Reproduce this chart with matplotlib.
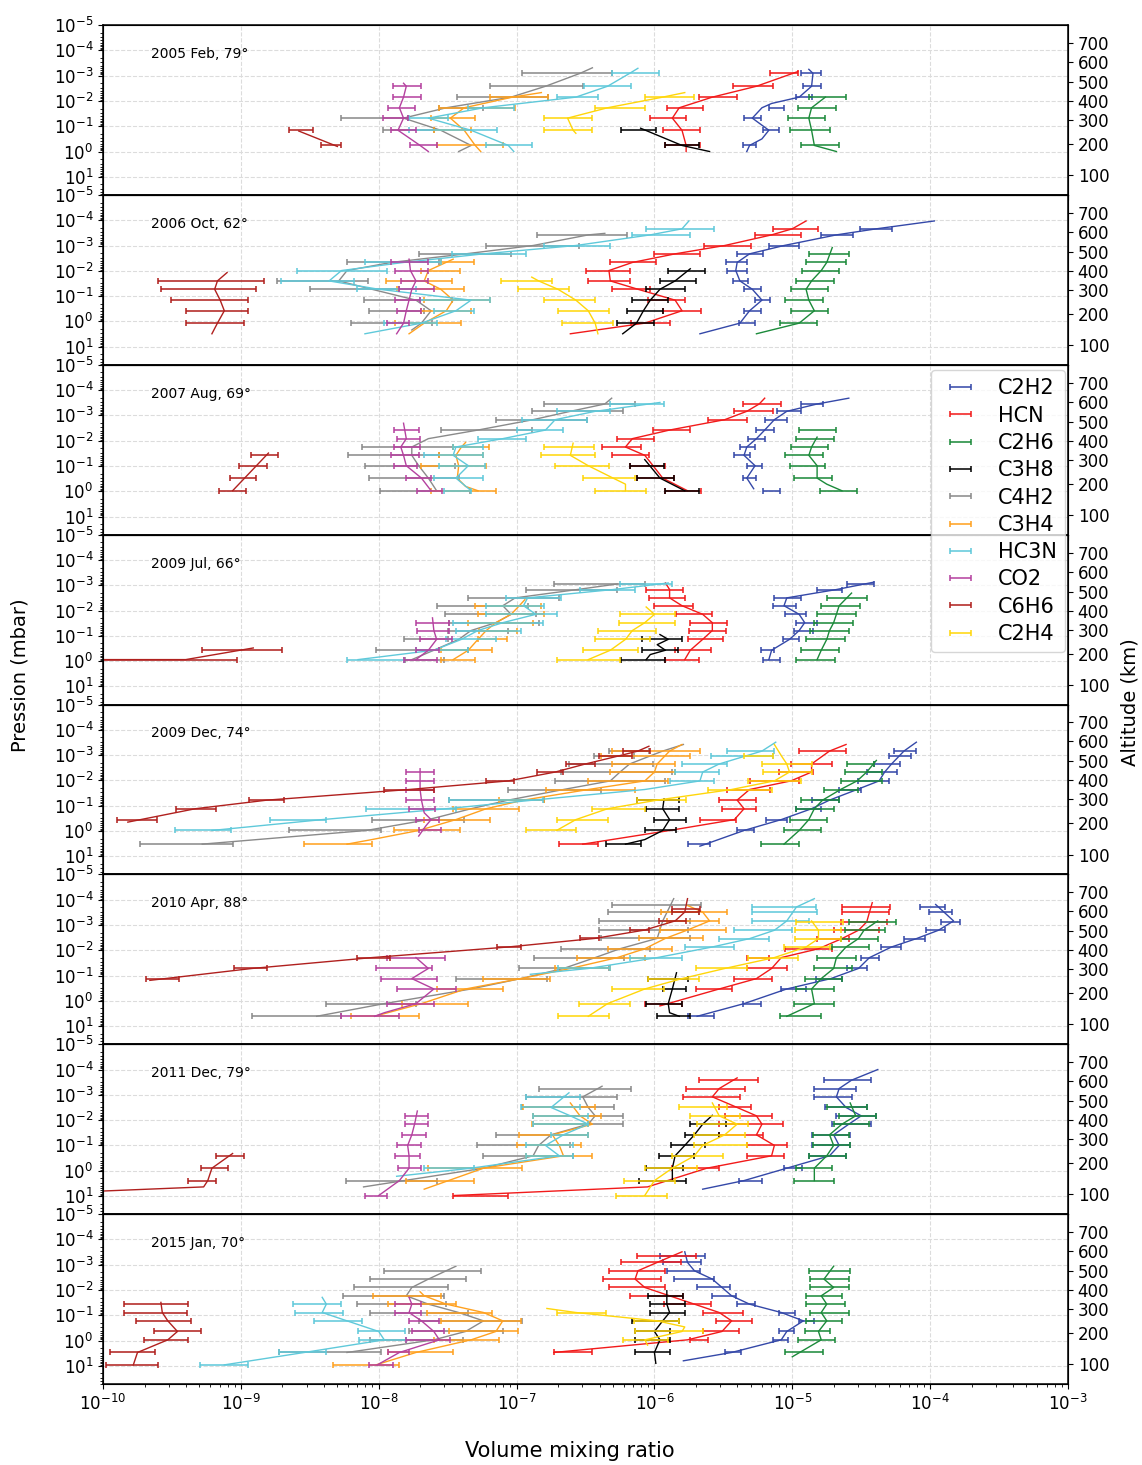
import numpy as np
import matplotlib.pyplot as plt
from matplotlib.ticker import LogLocator, NullFormatter, NullLocator

# ordre de la legende
species = ['C2H2', 'HCN', 'C2H6', 'C3H8', 'C4H2', 'C3H4', 'HC3N', 'CO2', 'C6H6', 'C2H4']
colors = {'C2H2': '#3448a8', 'HCN': '#f21a1a', 'C2H6': '#1b8a3a', 'C3H8': '#000000',
          'C4H2': '#8a8a8a', 'C3H4': '#ffa11f', 'HC3N': '#5fc9da', 'CO2': '#b5419f',
          'C6H6': '#b0201e', 'C2H4': '#ffd60a'}

titles = ['2005 Feb, 79°', '2006 Oct, 62°', '2007 Aug, 69°', '2009 Jul, 66°',
          '2009 Dec, 74°', '2010 Apr, 88°', '2011 Dec, 79°', '2015 Jan, 70°']

# axe de droite : altitude (km) et log10 de la pression correspondante
alt_km = [100, 200, 300, 400, 500, 600, 700]
alt_logp = [0.93, -0.30, -1.245, -2.0, -2.75, -3.54, -4.29]

# toutes les valeurs en log10 : barres (log p, log vmr min, log vmr max), profils (log p, log vmr)
bars_feb05 = {
    'C2H2': [(-3.09, -4.94, -4.79), (-2.58, -4.92, -4.79), (-2.15, -4.97, -4.86), (-1.73, -5.17, -5.06), (-1.32, -5.35, -5.23), (-0.84, -5.21, -5.10), (-0.24, -5.36, -5.26)],
    'HCN': [(-3.09, -5.16, -4.96), (-2.58, -5.43, -5.14), (-2.15, -5.68, -5.40), (-1.73, -5.91, -5.65), (-1.32, -6.03, -5.77), (-0.84, -5.94, -5.67), (-0.24, -5.92, -5.67)],
    'C2H6': [(-2.15, -4.88, -4.61), (-1.73, -4.96, -4.68), (-1.32, -5.03, -4.76), (-0.84, -5.02, -4.73), (-0.24, -4.94, -4.66)],
    'C3H8': [(-0.84, -6.24, -5.99), (-0.24, -5.92, -5.68)],
    'C4H2': [(-3.09, -6.96, -6.31), (-2.58, -7.19, -6.52), (-2.15, -7.43, -6.77), (-1.73, -7.56, -7.24), (-1.32, -8.27, -7.79), (-0.84, -7.97, -7.60)],
    'C3H4': [(-2.15, -7.19, -6.77), (-1.73, -7.56, -7.01), (-1.32, -7.62, -7.30), (-0.84, -7.60, -7.33), (-0.24, -7.58, -7.10)],
    'HC3N': [(-3.09, -6.31, -5.97), (-2.58, -6.51, -6.17), (-2.15, -6.71, -6.41), (-1.73, -7.35, -7.02), (-1.32, -7.78, -7.50), (-0.84, -7.78, -7.14), (-0.24, -7.22, -6.89)],
    'CO2': [(-2.58, -7.90, -7.69), (-2.15, -7.90, -7.69), (-1.73, -7.93, -7.74), (-1.32, -7.97, -7.79), (-0.84, -7.91, -7.73), (-0.24, -7.77, -7.58)],
    'C6H6': [(-0.84, -8.65, -8.48), (-0.24, -8.42, -8.27)],
    'C2H4': [(-2.15, -6.07, -5.71), (-1.73, -6.43, -6.07), (-1.32, -6.80, -6.45), (-0.84, -6.80, -6.45)],
}
curve_feb05 = {
    'C2H2': [(-3.25, -4.88), (-3.09, -4.85), (-2.58, -4.86), (-2.15, -4.95), (-1.90, -5.15), (-1.73, -5.22), (-1.32, -5.29), (-0.84, -5.17), (-0.50, -5.22), (-0.24, -5.31), (0.0, -5.33)],
    'HCN': [(-3.16, -4.96), (-2.58, -5.26), (-2.15, -5.58), (-1.73, -5.82), (-1.32, -5.87), (-0.84, -5.80), (-0.24, -5.77), (0.0, -5.77)],
    'C2H6': [(-2.15, -4.76), (-1.73, -4.86), (-1.32, -4.88), (-0.84, -4.86), (-0.24, -4.84), (0.0, -4.68)],
    'C3H8': [(-0.92, -6.10), (-0.24, -5.80), (0.0, -5.60)],
    'C4H2': [(-3.31, -6.45), (-3.09, -6.54), (-2.58, -6.79), (-2.15, -7.04), (-1.73, -7.51), (-1.32, -7.82), (-0.84, -7.55), (-0.24, -7.33), (0.0, -7.42)],
    'C3H4': [(-2.33, -6.82), (-2.15, -7.03), (-1.73, -7.38), (-1.32, -7.48), (-0.84, -7.38), (-0.24, -7.30), (0.0, -7.26)],
    'HC3N': [(-3.29, -6.12), (-3.09, -6.18), (-2.58, -6.34), (-2.15, -6.57), (-1.73, -7.24), (-1.32, -7.64), (-0.84, -7.33), (-0.24, -7.06), (0.0, -7.02)],
    'CO2': [(-2.70, -7.82), (-2.58, -7.80), (-2.15, -7.82), (-1.73, -7.85), (-1.32, -7.82), (-0.84, -7.86), (-0.24, -7.70), (0.0, -7.64)],
    'C6H6': [(-0.81, -8.58), (-0.20, -8.30)],
    'C2H4': [(-2.33, -5.78), (-2.15, -5.94), (-1.73, -6.34), (-1.32, -6.63), (-0.84, -6.59), (-0.72, -6.57)],
}

bars_oct06 = {
    'C2H2': [(-3.66, -4.51, -4.28), (-3.42, -4.79, -4.56), (-3.0, -5.17, -4.95), (-2.67, -5.40, -5.21), (-2.33, -5.48, -5.33), (-2.01, -5.47, -5.33), (-1.60, -5.43, -5.32), (-1.27, -5.35, -5.23), (-0.84, -5.27, -5.16), (-0.42, -5.35, -5.23), (0.07, -5.39, -5.27)],
    'HCN': [(-3.66, -5.14, -4.81), (-3.42, -5.27, -4.94), (-3.0, -5.64, -5.30), (-2.67, -6.0, -5.67), (-2.33, -6.32, -5.99), (-2.01, -6.50, -6.18), (-1.60, -6.48, -6.18), (-1.27, -6.31, -6.03), (-0.84, -6.05, -5.78), (-0.42, -5.94, -5.66), (0.07, -6.17, -5.89)],
    'C2H6': [(-2.67, -4.88, -4.59), (-2.33, -4.90, -4.61), (-2.01, -4.93, -4.66), (-1.60, -4.97, -4.70), (-1.27, -5.01, -4.74), (-0.84, -5.05, -4.78), (-0.42, -5.01, -4.74), (0.07, -5.09, -4.82)],
    'C3H8': [(-2.01, -5.90, -5.63), (-1.60, -5.96, -5.70), (-1.27, -6.06, -5.78), (-0.84, -6.16, -5.90), (-0.42, -6.20, -5.94), (0.07, -6.27, -6.0)],
    'C4H2': [(-3.42, -6.85, -6.20), (-3.0, -7.22, -6.55), (-2.67, -7.71, -7.04), (-2.33, -8.23, -7.56), (-1.60, -8.74, -8.08), (-1.27, -8.50, -7.85), (-0.84, -8.11, -7.47), (-0.42, -8.07, -7.67), (0.07, -8.20, -7.61)],
    'C3H4': [(-2.33, -7.55, -7.31), (-2.01, -7.69, -7.41), (-1.60, -7.95, -7.47), (-1.27, -7.87, -7.38), (-0.84, -7.67, -7.19), (-0.42, -7.69, -7.33), (0.07, -7.88, -7.40)],
    'HC3N': [(-3.66, -6.06, -5.57), (-3.42, -6.16, -5.74), (-3.0, -6.80, -6.32), (-2.67, -7.47, -6.93), (-2.33, -8.10, -7.55), (-2.01, -8.59, -7.94), (-1.60, -8.71, -8.18), (-1.27, -8.16, -7.73), (-0.84, -7.70, -7.19), (-0.42, -7.60, -7.31), (0.07, -7.96, -7.58)],
    'CO2': [(-2.33, -7.91, -7.64), (-2.01, -7.88, -7.64), (-1.60, -7.84, -7.64), (-1.27, -7.85, -7.60), (-0.84, -7.88, -7.70), (-0.42, -7.87, -7.69), (0.07, -7.94, -7.78)],
    'C6H6': [(-1.60, -9.60, -8.83), (-1.27, -9.58, -8.89), (-0.84, -9.51, -8.95), (-0.42, -9.40, -8.95), (0.07, -9.40, -8.98)],
    'C2H4': [(-1.60, -7.11, -6.74), (-1.27, -6.99, -6.62), (-0.84, -6.80, -6.43), (-0.42, -6.70, -6.33), (0.07, -6.67, -6.30)],
}
curve_oct06 = {
    'C2H2': [(-3.97, -3.97), (-3.66, -4.39), (-3.42, -4.68), (-3.0, -5.06), (-2.67, -5.31), (-2.33, -5.40), (-2.01, -5.41), (-1.60, -5.38), (-1.27, -5.29), (-0.84, -5.22), (-0.42, -5.31), (0.07, -5.38), (0.49, -5.67)],
    'HCN': [(-3.97, -4.90), (-3.66, -5.0), (-3.42, -5.15), (-3.0, -5.49), (-2.67, -5.85), (-2.33, -6.16), (-2.01, -6.33), (-1.60, -6.32), (-1.27, -6.12), (-0.84, -5.85), (-0.42, -5.80), (0.07, -6.07), (0.49, -6.61)],
    'C2H6': [(-2.92, -4.71), (-2.33, -4.75), (-2.01, -4.79), (-1.60, -4.86), (-1.27, -4.90), (-0.84, -4.88), (-0.42, -4.84), (0.07, -4.95), (0.49, -5.26)],
    'C3H8': [(-2.08, -5.74), (-1.60, -5.85), (-1.27, -5.96), (-0.84, -6.03), (-0.42, -6.08), (0.07, -6.13), (0.49, -6.23)],
    'C4H2': [(-3.48, -6.36), (-3.42, -6.48), (-3.0, -6.88), (-2.67, -7.37), (-2.33, -7.91), (-2.01, -8.23), (-1.60, -8.29), (-1.27, -8.05), (-0.84, -7.73), (-0.42, -7.62), (0.07, -7.69), (0.34, -7.76)],
    'C3H4': [(-2.46, -7.46), (-2.01, -7.64), (-1.60, -7.67), (-1.27, -7.55), (-0.84, -7.46), (-0.42, -7.51), (0.07, -7.67), (0.49, -7.78)],
    'HC3N': [(-3.97, -5.75), (-3.66, -5.80), (-3.42, -6.03), (-3.0, -6.57), (-2.67, -7.24), (-2.33, -7.82), (-2.01, -8.27), (-1.60, -8.36), (-1.27, -8.0), (-0.84, -7.33), (-0.42, -7.44), (0.07, -7.69), (0.49, -8.10)],
    'CO2': [(-2.46, -7.78), (-2.01, -7.77), (-1.60, -7.73), (-1.27, -7.76), (-0.84, -7.78), (-0.42, -7.80), (0.07, -7.82), (0.49, -7.87)],
    'C6H6': [(-1.93, -9.10), (-1.60, -9.17), (-1.27, -9.19), (-0.84, -9.15), (-0.42, -9.12), (0.07, -9.17), (0.49, -9.21)],
    'C2H4': [(-1.75, -6.89), (-1.60, -6.84), (-1.27, -6.70), (-0.84, -6.57), (-0.42, -6.48), (0.07, -6.43), (0.49, -6.41)],
}

bars_aug07 = {
    'C2H2': [(-3.45, -4.94, -4.78), (-3.16, -5.11, -4.94), (-2.83, -5.20, -5.04), (-2.42, -5.26, -5.13), (-2.08, -5.32, -5.20), (-1.75, -5.38, -5.27), (-1.42, -5.42, -5.31), (-1.01, -5.33, -5.22), (-0.52, -5.36, -5.26), (-0.02, -5.21, -5.09)],
    'HCN': [(-3.45, -5.36, -5.08), (-3.16, -5.42, -5.14), (-2.83, -5.61, -5.33), (-2.42, -6.01, -5.74), (-2.08, -6.27, -6.0), (-1.75, -6.38, -6.10), (-1.42, -6.31, -6.04), (-1.01, -6.18, -5.92), (-0.52, -6.13, -5.86), (-0.02, -5.92, -5.66)],
    'C2H6': [(-2.42, -4.95, -4.68), (-2.08, -4.97, -4.70), (-1.75, -5.01, -4.74), (-1.42, -5.05, -4.78), (-1.01, -5.02, -4.76), (-0.52, -4.99, -4.71), (-0.02, -4.80, -4.53)],
    'C3H8': [(-1.01, -6.18, -5.93), (-0.52, -6.13, -5.86), (-0.02, -5.92, -5.68)],
    'C4H2': [(-3.45, -6.80, -6.14), (-3.16, -6.89, -6.23), (-2.83, -7.15, -6.49), (-2.42, -7.55, -6.89), (-1.75, -8.12, -7.46), (-1.42, -8.22, -7.56), (-1.01, -8.10, -7.45), (-0.52, -8.07, -7.42), (-0.02, -7.99, -7.34)],
    'C3H4': [(-1.75, -7.46, -7.20), (-1.42, -7.56, -7.24), (-1.01, -7.69, -7.22), (-0.02, -7.62, -7.15)],
    'HC3N': [(-3.45, -6.32, -5.93), (-3.16, -6.71, -6.32), (-2.83, -6.96, -6.49), (-2.42, -7.0, -6.66), (-2.08, -7.28, -6.93), (-1.75, -7.46, -7.24), (-1.42, -7.67, -7.24), (-1.01, -7.56, -7.23), (-0.52, -7.60, -7.24), (-0.02, -7.53, -7.33)],
    'CO2': [(-2.42, -7.89, -7.71), (-2.08, -7.87, -7.70), (-1.75, -7.89, -7.70), (-1.42, -7.91, -7.71), (-1.01, -7.89, -7.72), (-0.52, -7.80, -7.62), (-0.02, -7.72, -7.54)],
    'C6H6': [(-1.42, -8.93, -8.73), (-1.01, -9.01, -8.81), (-0.52, -9.08, -8.89), (-0.02, -9.16, -8.96)],
    'C2H4': [(-1.75, -6.80, -6.44), (-1.42, -6.82, -6.43), (-1.01, -6.72, -6.33), (-0.52, -6.52, -6.14), (-0.02, -6.43, -6.06)],
}
curve_aug07 = {
    'C2H2': [(-3.68, -4.59), (-3.45, -4.82), (-3.16, -5.04), (-2.83, -5.13), (-2.42, -5.20), (-2.08, -5.26), (-1.75, -5.33), (-1.42, -5.35), (-1.01, -5.27), (-0.52, -5.33), (-0.10, -5.28)],
    'HCN': [(-3.68, -5.20), (-3.45, -5.24), (-3.16, -5.33), (-2.83, -5.49), (-2.42, -5.89), (-2.08, -6.16), (-1.75, -6.21), (-1.42, -6.07), (-1.01, -6.01), (-0.52, -5.94), (-0.02, -5.76)],
    'C2H6': [(-2.14, -4.82), (-1.75, -4.86), (-1.42, -4.88), (-1.01, -4.82), (-0.52, -4.82), (-0.28, -4.75), (-0.02, -4.64)],
    'C3H8': [(-1.25, -6.07), (-0.52, -5.96), (-0.02, -5.78)],
    'C4H2': [(-3.68, -6.31), (-3.45, -6.36), (-3.16, -6.61), (-2.83, -6.88), (-2.42, -7.28), (-2.08, -7.64), (-1.75, -7.76), (-1.42, -7.76), (-1.01, -7.71), (-0.52, -7.64), (-0.02, -7.58)],
    'C3H4': [(-1.93, -7.37), (-1.75, -7.40), (-1.42, -7.44), (-1.01, -7.42), (-0.52, -7.43), (-0.19, -7.37), (-0.02, -7.28)],
    'HC3N': [(-3.51, -5.96), (-3.16, -6.43), (-2.83, -6.72), (-2.42, -6.79), (-2.08, -7.10), (-1.75, -7.44), (-1.42, -7.46), (-1.01, -7.35), (-0.52, -7.44), (-0.02, -7.33)],
    'CO2': [(-2.69, -7.82), (-2.08, -7.80), (-1.75, -7.84), (-1.42, -7.82), (-1.01, -7.80), (-0.52, -7.69), (-0.02, -7.62)],
    'C6H6': [(-1.51, -8.80), (-0.02, -9.06)],
    'C2H4': [(-1.90, -6.59), (-1.42, -6.61), (-1.01, -6.48), (-0.52, -6.30), (-0.28, -6.21), (-0.02, -6.21)],
}

bars_jul09 = {
    'C2H2': [(-3.05, -4.60, -4.41), (-2.83, -4.82, -4.64), (-2.50, -5.13, -4.94), (-2.19, -5.14, -4.97), (-1.85, -5.05, -4.90), (-1.52, -4.97, -4.82), (-1.21, -4.99, -4.85), (-0.86, -5.07, -4.95), (-0.43, -5.23, -5.13), (-0.06, -5.21, -5.09)],
    'HCN': [(-2.83, -6.06, -5.79), (-2.50, -6.04, -5.78), (-2.19, -6.0, -5.72), (-1.85, -5.84, -5.58), (-1.52, -5.74, -5.47), (-1.21, -5.75, -5.48), (-0.86, -5.76, -5.50), (-0.43, -5.85, -5.59), (-0.06, -5.92, -5.68)],
    'C2H6': [(-2.50, -4.75, -4.46), (-2.19, -4.79, -4.51), (-1.85, -4.82, -4.54), (-1.52, -4.84, -4.56), (-1.21, -4.87, -4.59), (-0.86, -4.90, -4.62), (-0.43, -4.94, -4.66), (-0.06, -4.97, -4.69)],
    'C3H8': [(-0.86, -6.09, -5.80), (-0.43, -6.09, -5.83), (-0.06, -6.24, -5.92)],
    'C4H2': [(-3.05, -6.73, -6.07), (-2.83, -6.93, -6.27), (-2.50, -7.35, -6.69), (-2.19, -7.58, -6.92), (-1.85, -7.52, -6.86), (-1.52, -7.49, -6.84), (-1.21, -7.50, -7.06), (-0.86, -7.82, -7.50), (-0.43, -8.02, -7.35), (-0.06, -7.81, -7.53)],
    'C3H4': [(-2.19, -7.30, -6.82), (-1.85, -7.28, -6.80), (-1.52, -7.35, -6.88), (-1.21, -7.27, -7.0), (-0.86, -7.28, -7.07), (-0.43, -7.55, -7.18), (-0.06, -7.55, -7.30)],
    'HC3N': [(-3.05, -6.25, -5.87), (-2.83, -6.54, -6.14), (-2.50, -7.08, -6.68), (-2.19, -7.22, -6.80), (-1.85, -7.22, -6.71), (-1.52, -7.46, -6.81), (-1.21, -7.44, -6.97), (-0.86, -7.51, -7.15), (-0.43, -7.73, -7.35), (-0.06, -8.23, -7.82)],
    'CO2': [(-1.52, -7.73, -7.49), (-1.21, -7.72, -7.49), (-0.86, -7.70, -7.47), (-0.43, -7.73, -7.56), (-0.06, -7.82, -7.58)],
    'C6H6': [(-0.43, -9.28, -8.70), (-0.06, -10.3, -9.03)],
    'C2H4': [(-1.85, -6.25, -5.85), (-1.52, -6.26, -5.85), (-1.21, -6.41, -5.99), (-0.86, -6.43, -6.03), (-0.43, -6.52, -6.12), (-0.06, -6.71, -6.25)],
}
curve_jul09 = {
    'C2H2': [(-3.12, -4.41), (-2.83, -4.68), (-2.50, -5.04), (-2.19, -5.06), (-1.85, -4.95), (-1.52, -4.91), (-1.21, -4.95), (-0.86, -5.02), (-0.43, -5.15), (-0.06, -5.17)],
    'HCN': [(-3.09, -5.92), (-2.83, -5.89), (-2.50, -5.89), (-2.19, -5.80), (-1.85, -5.65), (-1.52, -5.58), (-1.21, -5.58), (-0.86, -5.65), (-0.43, -5.74), (-0.06, -5.78)],
    'C2H6': [(-2.69, -4.57), (-2.19, -4.66), (-1.85, -4.68), (-1.52, -4.70), (-1.21, -4.73), (-0.86, -4.75), (-0.43, -4.79), (-0.06, -4.82)],
    'C3H8': [(-1.05, -5.96), (-0.86, -5.90), (-0.65, -5.98), (-0.43, -5.92), (-0.26, -6.03), (-0.06, -6.06)],
    'C4H2': [(-3.05, -6.27), (-2.83, -6.56), (-2.50, -7.01), (-2.19, -7.10), (-1.85, -7.04), (-1.52, -7.15), (-1.21, -7.33), (-0.86, -7.42), (-0.43, -7.60), (-0.06, -7.76)],
    'C3H4': [(-2.43, -6.94), (-2.19, -6.98), (-1.85, -7.04), (-1.52, -7.15), (-1.21, -7.22), (-0.86, -7.28), (-0.43, -7.35), (-0.06, -7.46)],
    'HC3N': [(-3.09, -5.90), (-2.83, -6.30), (-2.50, -6.92), (-2.19, -6.95), (-1.85, -6.86), (-1.52, -7.10), (-1.21, -7.28), (-0.86, -7.40), (-0.43, -7.60), (-0.06, -8.15)],
    'CO2': [(-1.71, -7.61), (-1.21, -7.60), (-0.86, -7.58), (-0.43, -7.64), (-0.06, -7.73)],
    'C6H6': [(-0.52, -8.91), (-0.06, -9.40), (-0.06, -10.5)],
    'C2H4': [(-2.14, -6.06), (-1.85, -6.0), (-1.52, -6.07), (-1.21, -6.16), (-0.86, -6.21), (-0.43, -6.32), (-0.06, -6.48)],
}

bars_dec09 = {
    'C2H2': [(-3.16, -4.26, -4.10), (-2.98, -4.30, -4.14), (-2.65, -4.41, -4.22), (-2.33, -4.46, -4.24), (-1.98, -4.52, -4.30), (-1.64, -4.66, -4.50), (-1.22, -4.86, -4.66), (-0.88, -4.97, -4.79), (-0.45, -5.19, -5.04), (-0.02, -5.40, -5.28), (0.52, -5.76, -5.60)],
    'HCN': [(-3.16, -4.95, -4.61), (-2.65, -5.01, -4.71), (-2.33, -5.10, -4.85), (-1.98, -5.31, -4.95), (-1.64, -5.47, -5.16), (-1.22, -5.53, -5.26), (-0.88, -5.51, -5.26), (-0.45, -5.67, -5.41), (0.52, -6.69, -6.41)],
    'C2H6': [(-2.65, -4.60, -4.41), (-2.33, -4.62, -4.35), (-1.98, -4.65, -4.35), (-1.64, -4.77, -4.52), (-1.22, -4.94, -4.66), (-0.88, -4.97, -4.70), (-0.45, -5.02, -4.75), (-0.02, -5.06, -4.79), (0.52, -5.23, -4.95)],
    'C3H8': [(-1.22, -6.13, -5.82), (-0.88, -6.06, -5.82), (-0.45, -6.0, -5.77), (-0.02, -6.07, -5.84), (0.52, -6.35, -6.10)],
    'C4H2': [(-3.16, -6.33, -6.04), (-2.98, -6.44, -6.15), (-2.65, -6.62, -6.01), (-2.33, -6.68, -5.87), (-1.98, -6.72, -5.92), (-1.64, -7.06, -6.39), (-1.22, -7.49, -6.80), (-0.45, -8.05, -7.38), (-0.02, -8.65, -7.98), (0.52, -9.73, -9.06)],
    'C3H4': [(-3.16, -6.31, -5.67), (-2.98, -6.39, -5.74), (-2.65, -6.31, -5.85), (-2.33, -6.32, -5.85), (-1.98, -6.48, -5.90), (-1.64, -6.79, -6.14), (-1.22, -7.13, -6.80), (-0.88, -7.46, -6.98), (-0.45, -7.67, -7.19), (-0.02, -7.89, -7.41), (0.52, -8.54, -8.05)],
    'HC3N': [(-3.16, -5.47, -5.13), (-2.98, -5.59, -5.14), (-2.65, -5.80, -5.47), (-2.33, -5.85, -5.53), (-1.98, -5.89, -5.57), (-1.22, -7.49, -6.81), (-0.88, -8.09, -7.44), (-0.45, -8.79, -8.38), (-0.02, -9.48, -9.07)],
    'CO2': [(-2.33, -7.80, -7.60), (-1.98, -7.80, -7.60), (-1.64, -7.80, -7.60), (-1.22, -7.80, -7.60), (-0.88, -7.78, -7.59), (-0.45, -7.73, -7.56), (-0.02, -7.71, -7.55)],
    'C6H6': [(-3.16, -6.23, -6.03), (-2.98, -6.40, -6.16), (-2.65, -6.64, -6.43), (-2.33, -6.85, -6.66), (-1.98, -7.22, -7.02), (-1.64, -7.96, -7.60), (-1.22, -8.94, -8.69), (-0.88, -9.47, -9.18), (-0.45, -9.90, -9.61)],
    'C2H4': [(-2.98, -5.35, -5.14), (-2.65, -5.22, -4.86), (-2.33, -5.21, -4.86), (-1.98, -5.32, -4.94), (-1.64, -5.61, -5.15), (-1.22, -6.13, -5.77), (-0.88, -6.45, -6.07), (-0.45, -6.71, -6.34), (-0.02, -6.93, -6.57)],
}
curve_dec09 = {
    'C2H2': [(-3.51, -4.10), (-3.16, -4.19), (-2.65, -4.28), (-2.33, -4.33), (-1.98, -4.37), (-1.64, -4.53), (-1.22, -4.73), (-0.88, -4.86), (-0.45, -5.08), (-0.02, -5.35), (0.6, -5.67)],
    'HCN': [(-3.42, -4.61), (-3.16, -4.73), (-2.65, -4.86), (-2.33, -4.86), (-1.98, -5.01), (-1.64, -5.31), (-1.22, -5.40), (-0.88, -5.35), (-0.45, -5.42), (-0.02, -5.89), (0.52, -6.52)],
    'C2H6': [(-2.79, -4.39), (-2.33, -4.46), (-1.98, -4.53), (-1.64, -4.65), (-1.22, -4.78), (-0.88, -4.84), (-0.45, -4.88), (-0.02, -4.95), (0.52, -5.06)],
    'C3H8': [(-1.27, -5.93), (-0.88, -5.94), (-0.45, -5.89), (-0.02, -5.94), (0.34, -6.07), (0.52, -6.21)],
    'C4H2': [(-3.42, -5.79), (-3.16, -5.94), (-2.65, -6.18), (-2.33, -6.25), (-1.98, -6.32), (-1.64, -6.66), (-1.22, -7.06), (-0.88, -7.33), (-0.45, -7.64), (-0.02, -8.09), (0.52, -9.28)],
    'C3H4': [(-3.42, -5.80), (-3.16, -5.89), (-2.65, -5.98), (-2.33, -6.0), (-1.98, -6.07), (-1.64, -6.48), (-1.22, -6.95), (-0.88, -7.22), (-0.45, -7.44), (-0.02, -7.71), (0.34, -8.05), (0.52, -8.23)],
    'HC3N': [(-3.51, -5.12), (-3.16, -5.22), (-2.65, -5.53), (-2.33, -5.65), (-1.98, -5.67), (-1.64, -6.07), (-1.22, -6.88), (-0.88, -7.51), (-0.45, -8.41), (-0.02, -9.21)],
    'CO2': [(-2.46, -7.70), (-1.64, -7.70), (-1.22, -7.69), (-0.72, -7.67), (-0.45, -7.62), (-0.19, -7.66), (0.20, -7.71)],
    'C6H6': [(-3.35, -6.04), (-3.16, -6.12), (-2.98, -6.25), (-2.65, -6.50), (-2.33, -6.72), (-1.98, -7.06), (-1.64, -7.78), (-1.22, -8.81), (-0.88, -9.33), (-0.35, -9.82)],
    'C2H4': [(-3.42, -5.13), (-2.98, -5.08), (-2.65, -5.04), (-2.33, -5.02), (-1.98, -5.13), (-1.64, -5.44), (-1.22, -5.98), (-0.88, -6.34), (-0.45, -6.57), (-0.02, -6.71)],
}

bars_apr10 = {
    'C2H2': [(-3.71, -4.07, -3.89), (-3.51, -4.01, -3.84), (-3.12, -3.92, -3.78), (-2.79, -4.03, -3.89), (-2.46, -4.19, -4.04), (-2.13, -4.36, -4.21), (-1.71, -4.50, -4.37), (-1.28, -4.60, -4.46), (-0.88, -4.83, -4.64), (-0.47, -5.08, -4.90), (0.11, -5.36, -5.23), (0.61, -5.76, -5.57)],
    'HCN': [(-3.71, -4.64, -4.29), (-3.51, -4.64, -4.30), (-3.12, -4.65, -4.31), (-2.79, -4.70, -4.37), (-2.46, -4.82, -4.59), (-2.06, -5.05, -4.71), (-1.71, -5.33, -5.17), (-1.28, -5.33, -5.04), (-0.88, -5.42, -5.15), (-0.47, -5.70, -5.44), (0.11, -6.07, -5.80)],
    'C2H6': [(-3.12, -4.59, -4.25), (-2.79, -4.62, -4.33), (-2.46, -4.65, -4.38), (-2.13, -4.71, -4.44), (-1.71, -4.82, -4.54), (-1.28, -4.84, -4.57), (-0.88, -4.91, -4.64), (-0.47, -4.97, -4.70), (0.11, -4.99, -4.70), (0.61, -5.09, -4.79)],
    'C3H8': [(-0.88, -6.05, -5.76), (-0.47, -5.94, -5.77), (0.11, -6.06, -5.80), (0.61, -5.98, -5.74)],
    'C4H2': [(-3.77, -6.31, -5.66), (-3.51, -6.34, -5.68), (-3.16, -6.40, -5.74), (-2.80, -6.40, -5.76), (-2.47, -6.39, -5.74), (-2.06, -6.68, -6.03), (-1.71, -6.87, -6.22), (-1.28, -6.98, -6.33), (-0.88, -7.44, -6.78), (0.11, -8.38, -7.73), (0.61, -8.92, -8.27)],
    'C3H4': [(-3.51, -5.95, -5.47), (-3.16, -5.91, -5.53), (-2.80, -5.96, -5.48), (-2.47, -6.11, -5.65), (-2.06, -6.34, -5.87), (-1.71, -6.56, -6.07), (-1.28, -6.72, -6.32), (-0.88, -7.24, -6.76), (-0.47, -7.58, -7.10), (0.11, -7.83, -7.35), (0.61, -8.20, -7.71)],
    'HC3N': [(-3.71, -5.29, -4.83), (-3.51, -5.29, -4.82), (-3.16, -5.29, -4.88), (-2.79, -5.42, -5.0), (-2.46, -5.53, -5.17), (-2.13, -5.78, -5.42), (-1.71, -6.18, -5.80), (-1.28, -6.70, -6.32)],
    'CO2': [(-1.71, -7.94, -7.52), (-1.28, -8.02, -7.61), (-0.88, -7.98, -7.58), (-0.47, -7.87, -7.44), (0.11, -7.94, -7.60), (0.61, -8.27, -7.85)],
    'C6H6': [(-3.64, -5.87, -5.67), (-3.51, -5.87, -5.68), (-3.16, -5.97, -5.77), (-2.80, -6.18, -6.04), (-2.47, -6.54, -6.40), (-2.13, -7.14, -6.97), (-1.71, -8.16, -7.92), (-1.28, -9.05, -8.81), (-0.88, -9.69, -9.45)],
    'C2H4': [(-3.12, -4.97, -4.63), (-2.79, -4.98, -4.65), (-2.46, -4.98, -4.65), (-2.13, -5.06, -4.73), (-1.71, -5.32, -4.96), (-1.28, -5.70, -5.33), (-0.88, -6.05, -5.68), (-0.47, -6.31, -5.93), (0.11, -6.55, -6.18), (0.61, -6.70, -6.33)],
}
curve_apr10 = {
    'C2H2': [(-3.81, -3.96), (-3.51, -3.90), (-3.16, -3.83), (-2.79, -3.94), (-2.46, -4.10), (-2.13, -4.28), (-1.71, -4.44), (-1.28, -4.52), (-0.88, -4.72), (-0.47, -5.04), (0.11, -5.35), (0.61, -5.69)],
    'HCN': [(-3.88, -4.42), (-3.51, -4.44), (-3.12, -4.46), (-2.79, -4.52), (-2.46, -4.64), (-2.06, -4.81), (-1.71, -5.08), (-1.28, -5.15), (-0.88, -5.26), (-0.47, -5.53), (0.20, -5.96)],
    'C2H6': [(-3.16, -4.38), (-2.79, -4.48), (-2.46, -4.52), (-2.13, -4.61), (-1.71, -4.68), (-1.28, -4.70), (-0.88, -4.79), (-0.47, -4.86), (0.11, -4.84), (0.61, -5.04)],
    'C3H8': [(-1.11, -5.84), (-0.47, -5.87), (0.11, -5.90), (0.47, -5.89), (0.61, -5.82)],
    'C4H2': [(-4.04, -5.86), (-3.16, -5.94), (-2.47, -5.98), (-2.06, -6.25), (-1.71, -6.43), (-1.28, -6.66), (-0.88, -6.97), (-0.47, -7.33), (0.11, -7.96), (0.61, -8.45)],
    'C3H4': [(-3.77, -5.76), (-3.51, -5.65), (-3.16, -5.60), (-2.80, -5.76), (-2.47, -5.92), (-2.06, -6.07), (-1.71, -6.27), (-1.28, -6.61), (-0.88, -6.97), (-0.47, -7.37), (0.11, -7.69), (0.61, -8.03)],
    'HC3N': [(-4.04, -4.84), (-3.71, -4.97), (-3.16, -5.04), (-2.79, -5.13), (-2.46, -5.31), (-2.13, -5.58), (-1.71, -5.98), (-1.28, -6.48), (-1.05, -6.90)],
    'CO2': [(-1.71, -7.73), (-1.28, -7.64), (-0.88, -7.76), (-0.47, -7.60), (0.11, -7.73), (0.47, -7.96), (0.61, -8.03)],
    'C6H6': [(-4.04, -5.76), (-3.51, -5.78), (-3.16, -5.85), (-2.80, -6.07), (-2.47, -6.43), (-2.13, -7.06), (-1.71, -8.05), (-1.28, -8.92), (-0.81, -9.66)],
    'C2H4': [(-3.16, -4.86), (-2.79, -4.81), (-2.46, -4.81), (-2.13, -4.90), (-1.71, -5.13), (-1.28, -5.49), (-0.88, -5.80), (-0.47, -6.07), (0.11, -6.34), (0.61, -6.48)],
}

bars_dec11 = {
    'C2H2': [(-3.58, -4.77, -4.43), (-3.25, -4.84, -4.54), (-2.92, -4.84, -4.57), (-2.50, -4.76, -4.46), (-2.17, -4.68, -4.39), (-1.84, -4.71, -4.43), (-1.42, -4.86, -4.58), (-1.0, -4.86, -4.58), (-0.59, -4.88, -4.61), (-0.10, -5.06, -4.93), (0.39, -5.39, -5.22)],
    'HCN': [(-3.58, -5.68, -5.25), (-3.25, -5.77, -5.34), (-2.92, -5.79, -5.38), (-2.50, -5.53, -5.30), (-2.17, -5.49, -5.15), (-1.84, -5.53, -5.07), (-1.42, -5.53, -5.21), (-1.0, -5.33, -5.04), (-0.59, -5.33, -5.06), (-0.10, -5.87, -5.53), (0.98, -7.46, -7.06)],
    'C2H6': [(-2.50, -4.75, -4.46), (-2.17, -4.66, -4.39), (-1.84, -4.70, -4.44), (-1.42, -4.85, -4.59), (-1.0, -4.85, -4.58), (-0.59, -4.88, -4.61), (-0.10, -4.97, -4.71), (0.39, -4.99, -4.70)],
    'C3H8': [(-1.84, -5.74, -5.48), (-1.42, -5.78, -5.53), (-1.0, -5.88, -5.63), (-0.59, -5.97, -5.71), (-0.10, -6.06, -5.79), (0.39, -6.11, -5.77)],
    'C4H2': [(-3.25, -6.84, -6.17), (-2.92, -6.93, -6.27), (-2.50, -6.96, -6.29), (-2.17, -6.88, -6.23), (-1.84, -6.88, -6.23), (-1.42, -7.15, -6.48), (-1.0, -7.29, -6.61), (-0.59, -7.24, -6.59), (0.39, -8.24, -7.58)],
    'C3H4': [(-2.50, -6.95, -6.43), (-2.17, -6.88, -6.39), (-1.84, -6.89, -6.48), (-1.42, -6.98, -6.48), (-1.0, -7.0, -6.53), (-0.59, -6.93, -6.45), (-0.10, -7.64, -6.96), (0.39, -7.80, -7.31)],
    'HC3N': [(-2.92, -6.93, -6.54), (-2.50, -6.97, -6.54), (-2.17, -6.88, -6.48), (-1.84, -6.88, -6.48), (-1.42, -6.75, -6.48), (-1.0, -6.93, -6.59), (-0.59, -6.93, -6.59), (-0.10, -7.67, -7.31)],
    'CO2': [(-2.17, -7.81, -7.64), (-1.84, -7.81, -7.64), (-1.42, -7.83, -7.66), (-1.0, -7.87, -7.69), (-0.59, -7.88, -7.70), (-0.10, -7.86, -7.69), (0.98, -8.10, -7.94)],
    'C6H6': [(-0.59, -9.18, -8.98), (-0.10, -9.29, -9.09), (0.39, -9.38, -9.18)],
    'C2H4': [(-2.50, -5.82, -5.47), (-2.17, -5.74, -5.38), (-1.84, -5.69, -5.32), (-1.42, -5.71, -5.34), (-1.0, -5.71, -5.33), (-0.59, -5.87, -5.50), (-0.10, -6.07, -5.69), (0.39, -6.22, -5.85), (0.98, -6.28, -5.91)],
}
curve_dec11 = {
    'C2H2': [(-4.0, -4.38), (-3.58, -4.57), (-3.25, -4.66), (-2.92, -4.68), (-2.50, -4.61), (-2.17, -4.50), (-1.84, -4.59), (-1.42, -4.70), (-1.0, -4.66), (-0.59, -4.73), (-0.10, -5.04), (0.39, -5.35), (0.73, -5.65)],
    'HCN': [(-3.67, -5.40), (-3.25, -5.53), (-2.92, -5.58), (-2.50, -5.40), (-2.17, -5.26), (-1.84, -5.22), (-1.42, -5.26), (-1.0, -5.13), (-0.59, -5.15), (-0.10, -5.62), (0.64, -6.05), (0.98, -7.45)],
    'C2H6': [(-2.68, -4.58), (-2.17, -4.54), (-1.84, -4.64), (-1.42, -4.73), (-1.0, -4.70), (-0.59, -4.75), (-0.10, -4.84), (0.39, -4.84)],
    'C3H8': [(-2.19, -5.58), (-1.84, -5.65), (-1.42, -5.71), (-1.0, -5.78), (-0.59, -5.85), (-0.10, -5.87), (0.39, -5.87)],
    'C4H2': [(-3.34, -6.38), (-2.92, -6.52), (-2.50, -6.48), (-2.17, -6.43), (-1.84, -6.48), (-1.42, -6.75), (-1.0, -6.84), (-0.59, -6.88), (-0.10, -7.24), (0.64, -8.11)],
    'C3H4': [(-2.68, -6.61), (-2.17, -6.54), (-1.84, -6.45), (-1.42, -6.74), (-1.0, -6.69), (-0.59, -6.66), (-0.10, -7.24), (0.73, -7.67)],
    'HC3N': [(-3.08, -6.62), (-2.50, -6.75), (-2.17, -6.61), (-1.84, -6.48), (-1.42, -6.66), (-1.0, -6.79), (-0.59, -6.69), (-0.10, -7.33), (0.22, -7.87)],
    'CO2': [(-2.36, -7.72), (-1.84, -7.74), (-1.42, -7.76), (-1.0, -7.79), (-0.59, -7.78), (-0.10, -7.78), (0.39, -7.85), (0.98, -8.0)],
    'C6H6': [(-0.68, -9.06), (-0.10, -9.21), (0.39, -9.24), (0.64, -9.27), (0.87, -10.3)],
    'C2H4': [(-2.68, -5.58), (-2.17, -5.53), (-1.84, -5.40), (-1.42, -5.49), (-1.0, -5.65), (-0.59, -5.71), (-0.10, -5.87), (0.39, -6.0), (0.98, -6.07)],
}

bars_jan15 = {
    'C2H2': [(-3.35, -5.96, -5.63), (-3.09, -5.94, -5.66), (-2.76, -5.91, -5.67), (-2.43, -5.86, -5.57), (-2.10, -5.69, -5.45), (-1.77, -5.58, -5.41), (-1.44, -5.40, -5.27), (-1.11, -5.10, -4.98), (-0.78, -4.95, -4.84), (-0.36, -5.10, -4.99), (-0.03, -5.14, -5.03), (0.47, -5.49, -5.37)],
    'HCN': [(-3.35, -6.13, -5.70), (-3.09, -6.24, -5.81), (-2.76, -6.33, -5.92), (-2.43, -6.37, -5.95), (-2.10, -6.33, -5.92), (-1.77, -6.18, -5.79), (-1.44, -5.93, -5.59), (-1.11, -5.65, -5.36), (-0.78, -5.55, -5.29), (-0.36, -5.65, -5.39), (-0.03, -5.74, -5.61), (0.47, -6.73, -6.45)],
    'C2H6': [(-2.76, -4.88, -4.58), (-2.43, -4.87, -4.59), (-2.10, -4.87, -4.59), (-1.77, -4.90, -4.64), (-1.44, -4.90, -4.62), (-1.11, -4.87, -4.59), (-0.78, -4.90, -4.64), (-0.36, -4.91, -4.73), (-0.03, -4.96, -4.69), (0.47, -5.05, -4.78)],
    'C3H8': [(-1.77, -6.05, -5.79), (-1.44, -6.03, -5.78), (-1.11, -6.03, -5.78), (-0.78, -6.16, -5.82), (-0.36, -6.14, -5.89), (-0.03, -6.14, -5.89), (0.47, -6.14, -5.89)],
    'C4H2': [(-2.76, -7.96, -7.26), (-2.43, -8.06, -7.37), (-2.10, -8.18, -7.50), (-1.77, -8.26, -7.53), (-1.44, -8.16, -7.51), (-1.11, -8.06, -7.35), (-0.78, -7.71, -6.96), (-0.36, -7.78, -7.10), (-0.03, -8.06, -7.39), (0.47, -8.72, -7.98)],
    'C3H4': [(-1.77, -8.04, -7.55), (-1.44, -7.93, -7.44), (-1.11, -7.65, -7.18), (-0.78, -7.55, -6.97), (-0.36, -7.49, -6.99), (-0.03, -7.60, -7.13), (0.47, -7.93, -7.46), (0.96, -8.33, -7.85)],
    'HC3N': [(-1.44, -8.62, -8.27), (-1.11, -8.61, -8.26), (-0.78, -8.47, -8.12), (-0.36, -8.15, -7.81), (-0.03, -8.14, -7.80), (0.47, -8.72, -8.38), (0.96, -9.30, -8.95)],
    'CO2': [(-1.44, -7.88, -7.69), (-1.11, -7.88, -7.69), (-0.78, -7.78, -7.56), (-0.36, -7.76, -7.53), (-0.03, -7.80, -7.48), (0.47, -7.93, -7.78), (0.96, -8.07, -7.90)],
    'C6H6': [(-1.44, -9.85, -9.38), (-1.11, -9.85, -9.39), (-0.78, -9.76, -9.36), (-0.36, -9.63, -9.29), (-0.03, -9.70, -9.38), (0.47, -9.95, -9.62), (0.96, -9.98, -9.60)],
    'C2H4': [(-1.11, -6.71, -6.35), (-0.78, -6.15, -5.82), (-0.36, -6.14, -5.65), (-0.03, -6.23, -5.90)],
}
curve_jan15 = {
    'C2H2': [(-3.51, -5.78), (-3.09, -5.76), (-2.76, -5.71), (-2.43, -5.58), (-2.10, -5.51), (-1.77, -5.44), (-1.44, -5.31), (-1.11, -5.08), (-0.78, -4.92), (-0.36, -5.04), (-0.03, -5.08), (0.47, -5.44), (0.80, -5.79)],
    'HCN': [(-3.51, -5.80), (-3.09, -5.98), (-2.76, -6.12), (-2.43, -6.14), (-2.10, -6.07), (-1.77, -5.89), (-1.44, -5.71), (-1.11, -5.53), (-0.78, -5.44), (-0.36, -5.51), (-0.03, -5.76), (0.47, -6.73)],
    'C2H6': [(-2.94, -4.70), (-2.43, -4.77), (-2.10, -4.70), (-1.77, -4.79), (-1.44, -4.75), (-1.11, -4.79), (-0.78, -4.75), (-0.36, -4.81), (-0.03, -4.79), (0.64, -5.0)],
    'C3H8': [(-1.97, -5.91), (-1.44, -5.91), (-1.11, -5.89), (-0.78, -5.94), (-0.36, -6.0), (-0.03, -5.96), (0.47, -6.0), (0.90, -5.99)],
    'C4H2': [(-2.94, -7.44), (-2.43, -7.64), (-2.10, -7.76), (-1.77, -7.80), (-1.44, -7.64), (-1.11, -7.42), (-0.78, -7.24), (-0.36, -7.37), (-0.03, -7.60), (0.47, -8.23)],
    'C3H4': [(-1.93, -7.70), (-1.77, -7.67), (-1.44, -7.51), (-1.11, -7.24), (-0.78, -7.10), (-0.36, -7.15), (-0.03, -7.33), (0.47, -7.73), (0.96, -8.02)],
    'HC3N': [(-1.71, -8.41), (-1.44, -8.38), (-1.11, -8.41), (-0.78, -8.23), (-0.36, -8.0), (-0.03, -7.96), (0.47, -8.54), (0.96, -9.12)],
    'CO2': [(-1.71, -7.78), (-1.44, -7.76), (-1.11, -7.78), (-0.78, -7.69), (-0.36, -7.60), (-0.03, -7.56), (0.47, -7.85), (0.96, -8.01)],
    'C6H6': [(-1.51, -9.58), (-1.11, -9.57), (-0.78, -9.53), (-0.36, -9.46), (-0.03, -9.53), (0.47, -9.75), (0.96, -9.78)],
    'C2H4': [(-1.27, -6.78), (-1.11, -6.57), (-0.78, -5.98), (-0.54, -5.78), (-0.36, -5.80), (-0.03, -6.07), (0.18, -6.05)],
}

all_bars = [bars_feb05, bars_oct06, bars_aug07, bars_jul09, bars_dec09, bars_apr10, bars_dec11, bars_jan15]
all_curves = [curve_feb05, curve_oct06, curve_aug07, curve_jul09, curve_dec09, curve_apr10, curve_dec11, curve_jan15]

fig, axes = plt.subplots(8, 1, sharex=True, figsize=(11.42, 14.65), dpi=100)
fig.subplots_adjust(left=0.0902, right=0.9352, top=0.9829, bottom=0.0553, hspace=0)

handles = {}
for ax, bars, curves, title in zip(axes, all_bars, all_curves, titles):
    for sp in species:
        c = colors[sp]
        b = np.array(bars[sp])
        p = 10 ** b[:, 0]
        lo = 10 ** b[:, 1]
        hi = 10 ** b[:, 2]
        mid = np.sqrt(lo * hi)
        h = ax.errorbar(mid, p, xerr=[mid - lo, hi - mid], fmt='none', ecolor=c,
                        elinewidth=1.4, capsize=2, capthick=1.4, alpha=0.8)
        handles.setdefault(sp, h)
        cv = np.array(curves[sp])
        ax.plot(10 ** cv[:, 1], 10 ** cv[:, 0], color=c, lw=1.0)

    ax.set_xscale('log')
    ax.set_yscale('log')
    ax.set_xlim(1e-10, 1e-3)
    ax.set_ylim(52, 1e-5)
    ax.yaxis.set_major_locator(LogLocator(base=10, numticks=20))
    ax.yaxis.set_minor_locator(LogLocator(base=10, subs=np.arange(2, 10), numticks=20))
    ax.yaxis.set_minor_formatter(NullFormatter())
    ax.xaxis.set_major_locator(LogLocator(base=10, numticks=20))
    ax.xaxis.set_minor_locator(LogLocator(base=10, subs=np.arange(2, 10), numticks=20))
    ax.xaxis.set_minor_formatter(NullFormatter())
    ax.grid(True, which='major', ls='--', color='#dcdcdc', lw=0.8)
    ax.tick_params(labelsize=12)
    for s in ax.spines.values():
        s.set_linewidth(1.1)
    ax.text(0.05, 0.83, title, transform=ax.transAxes, fontsize=10, va='center')

    ax2 = ax.twinx()
    ax2.set_yscale('log')
    ax2.set_ylim(52, 1e-5)
    ax2.set_yticks(10 ** np.array(alt_logp), labels=[str(a) for a in alt_km])
    ax2.yaxis.set_minor_locator(NullLocator())
    ax2.tick_params(labelsize=12)

axes[-1].tick_params(axis='x', labelsize=12)

fig.text(0.0175, 0.539, 'Pression (mbar)', rotation=90, ha='center', va='center', fontsize=14)
fig.text(0.9895, 0.521, 'Altitude (km)', rotation=90, ha='center', va='center', fontsize=14)
fig.text(0.499, 0.0095, 'Volume mixing ratio', ha='center', va='center', fontsize=15)

fig.legend([handles[s] for s in species], species, loc='upper right',
           bbox_to_anchor=(0.9326, 0.7474), borderaxespad=0, fontsize=15,
           labelspacing=0.35)

fig.savefig('out.png', dpi=100)
